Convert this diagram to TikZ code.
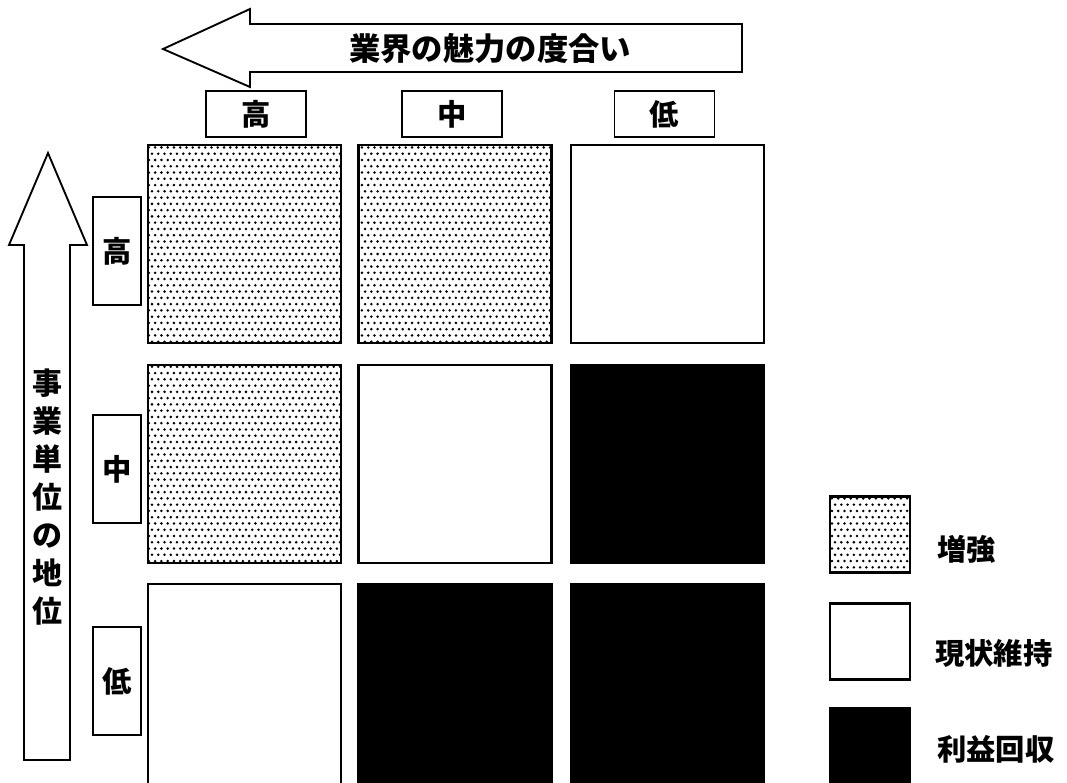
\documentclass[tikz,border=0pt]{standalone}
\usepackage{fontspec}
\newfontfamily\jp{Noto Sans CJK JP}
\usetikzlibrary{patterns}
\pgfdeclarepatternformonly{stip}{\pgfqpoint{-1pt}{-1pt}}{\pgfqpoint{6pt}{11pt}}{\pgfqpoint{4.7pt}{9.4pt}}{%
  \pgfpathcircle{\pgfqpoint{1.2pt}{1.2pt}}{1.05pt}%
  \pgfpathcircle{\pgfqpoint{3.55pt}{5.9pt}}{1.05pt}%
  \pgfusepath{fill}}
\tikzset{
  jptext/.style={font=\jp\bfseries\fontsize{22pt}{26pt}\selectfont, inner sep=0pt},
  cell/.style={draw, line width=1.8pt, inner sep=0pt, minimum width=144.75pt, minimum height=148.5pt},
  lastcell/.style={cell, minimum height=151.5pt},
  stipple/.style={fill=white, postaction={pattern=stip}},
  solid black/.style={fill=black},
  hbox/.style={draw, line width=1.4pt, inner sep=0pt, minimum width=75pt, minimum height=34.5pt, jptext},
  vbox/.style={draw, line width=1.4pt, inner sep=0pt, minimum width=36pt, minimum height=81pt, jptext},
  bigarrow/.style={draw, line width=1.4pt, line join=miter, fill=white},
  legbox/.style={draw, line width=1.6pt, inner sep=0pt, minimum width=60pt, minimum height=57pt},
}
\begin{document}
\begin{tikzpicture}[x=0.75pt,y=-0.75pt]
\useasboundingbox (0,0) rectangle (1067,782);
% top arrow
\draw[bigarrow] (163,49) -- (250,9) -- (250,24) -- (742,24) -- (742,72) -- (250,72) -- (250,87) -- cycle;
\node[jptext, font=\jp\bfseries\fontsize{23.5pt}{26pt}\selectfont] (ttl) at (490,49) {業界の魅力の度合い};
% left arrow
\draw[bigarrow] (48,153) -- (87,245) -- (70,245) -- (70,760) -- (24,760) -- (24,245) -- (9,245) -- cycle;
\node[jptext, align=center, font=\jp\bfseries\fontsize{22.5pt}{28.5pt}\selectfont] (vttl) at (47,497) {事\\業\\単\\位\\の\\地\\位};
% column headers
\node[hbox] (ch) at (256,114) {高};
\node[hbox] (cm) at (452,114) {中};
\node[hbox] (cl) at (664.5,114) {低};
% row headers
\node[vbox] (rh) at (117,251) {高};
\node[vbox] (rm) at (117,469) {中};
\node[vbox] (rl) at (117,681) {低};
% cells
\node[cell, stipple] (c11) at (244.5,244) {};
\node[cell, stipple] (c12) at (455,244) {};
\node[cell] (c13) at (667.5,244) {};
\node[cell, stipple] (c21) at (244.5,464) {};
\node[cell] (c22) at (455,464) {};
\node[cell, solid black] (c23) at (667.5,464) {};
\node[lastcell] (c31) at (244.5,685) {};
\node[lastcell, solid black] (c32) at (455,685) {};
\node[lastcell, solid black] (c33) at (667.5,685) {};
% legend
\node[legbox, stipple] (l1) at (870,534.5) {};
\node[legbox] (l2) at (870,641.5) {};
\node[legbox, solid black] (l3) at (870,746) {};
\node[jptext, anchor=west] (t1) at (937,549) {増強};
\node[jptext, anchor=west] (t2) at (935,653) {現状維持};
\node[jptext, anchor=west] (t3) at (937,749) {利益回収};
\end{tikzpicture}
\end{document}
